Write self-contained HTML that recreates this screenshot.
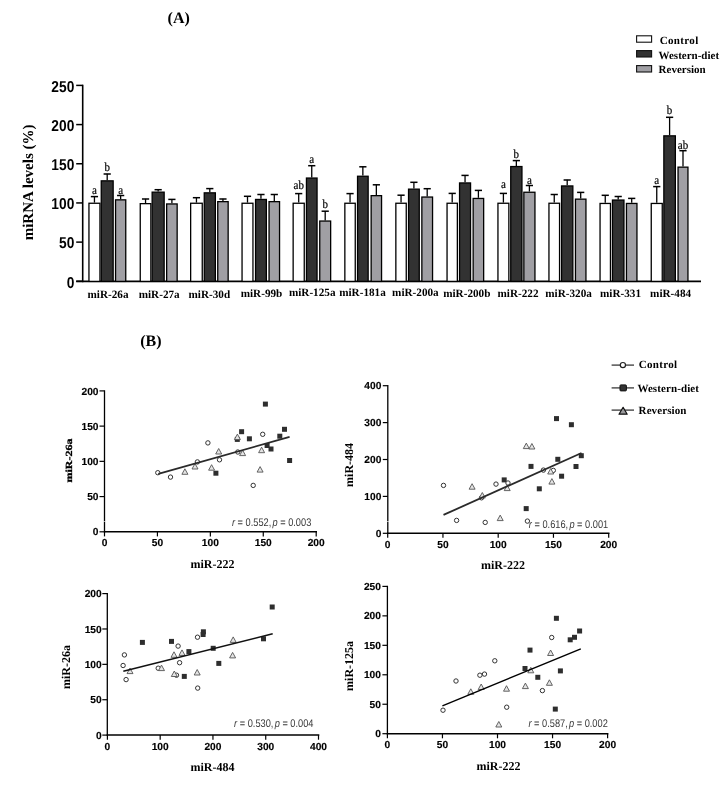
<!DOCTYPE html>
<html><head><meta charset="utf-8"><title>Figure</title>
<style>
html,body{margin:0;padding:0;background:#fff;}
body{width:722px;height:785px;overflow:hidden;font-family:"Liberation Sans",sans-serif;}
svg{display:block;will-change:transform;}
text{text-rendering:geometricPrecision;}
</style></head>
<body>
<svg width="722" height="785" viewBox="0 0 722 785">
<rect x="0" y="0" width="722" height="785" fill="#fff"/>
<text x="167.6" y="22.6" font-family="'Liberation Serif', serif" font-weight="bold" font-size="16">(A)</text>
<line x1="82.7" y1="84.7" x2="82.7" y2="282.2" stroke="#000" stroke-width="1.6"/>
<line x1="76.2" y1="281.4" x2="701" y2="281.4" stroke="#000" stroke-width="1.7"/>
<line x1="76.2" y1="281.3" x2="82.7" y2="281.3" stroke="#000" stroke-width="1.5"/>
<text transform="translate(74.3,287.6) scale(0.87,1)" text-anchor="end" font-family="'Liberation Sans', sans-serif" font-weight="bold" font-size="15.8">0</text>
<line x1="76.2" y1="242.12" x2="82.7" y2="242.12" stroke="#000" stroke-width="1.5"/>
<text transform="translate(74.3,248.42) scale(0.87,1)" text-anchor="end" font-family="'Liberation Sans', sans-serif" font-weight="bold" font-size="15.8">50</text>
<line x1="76.2" y1="202.94" x2="82.7" y2="202.94" stroke="#000" stroke-width="1.5"/>
<text transform="translate(74.3,209.24) scale(0.87,1)" text-anchor="end" font-family="'Liberation Sans', sans-serif" font-weight="bold" font-size="15.8">100</text>
<line x1="76.2" y1="163.76" x2="82.7" y2="163.76" stroke="#000" stroke-width="1.5"/>
<text transform="translate(74.3,170.06) scale(0.87,1)" text-anchor="end" font-family="'Liberation Sans', sans-serif" font-weight="bold" font-size="15.8">150</text>
<line x1="76.2" y1="124.58" x2="82.7" y2="124.58" stroke="#000" stroke-width="1.5"/>
<text transform="translate(74.3,130.88) scale(0.87,1)" text-anchor="end" font-family="'Liberation Sans', sans-serif" font-weight="bold" font-size="15.8">200</text>
<line x1="76.2" y1="85.4" x2="82.7" y2="85.4" stroke="#000" stroke-width="1.5"/>
<text transform="translate(74.3,91.7) scale(0.87,1)" text-anchor="end" font-family="'Liberation Sans', sans-serif" font-weight="bold" font-size="15.8">250</text>
<text transform="translate(33.3,182.4) rotate(-90)" text-anchor="middle" font-family="'Liberation Serif', serif" font-weight="bold" font-size="15">miRNA levels (%)</text>
<line x1="94.45" y1="196.4" x2="94.45" y2="202.6" stroke="#000" stroke-width="1.3"/>
<line x1="90.85" y1="196.6" x2="98.05" y2="196.6" stroke="#000" stroke-width="1.5"/>
<rect x="88.95" y="203.25" width="11" height="78.15" fill="#ffffff" stroke="#000" stroke-width="1.3"/>
<text transform="translate(94.45,194) scale(0.9,1)" text-anchor="middle" font-family="'Liberation Serif', serif" font-size="12.2" stroke="#000" stroke-width="0.2">a</text>
<line x1="107.2" y1="173.8" x2="107.2" y2="180.2" stroke="#000" stroke-width="1.3"/>
<line x1="103.6" y1="174" x2="110.8" y2="174" stroke="#000" stroke-width="1.5"/>
<rect x="101.25" y="180.85" width="11.9" height="100.55" fill="#323232" stroke="#000" stroke-width="1.3"/>
<text transform="translate(107.2,170.8) scale(0.9,1)" text-anchor="middle" font-family="'Liberation Serif', serif" font-size="12.2" stroke="#000" stroke-width="0.2">b</text>
<line x1="120.65" y1="195.3" x2="120.65" y2="199.2" stroke="#000" stroke-width="1.3"/>
<line x1="117.05" y1="195.5" x2="124.25" y2="195.5" stroke="#000" stroke-width="1.5"/>
<rect x="115.55" y="199.85" width="10.2" height="81.55" fill="#a09fa4" stroke="#000" stroke-width="1.3"/>
<text transform="translate(120.65,194) scale(0.9,1)" text-anchor="middle" font-family="'Liberation Serif', serif" font-size="12.2" stroke="#000" stroke-width="0.2">a</text>
<text x="108" y="297.9" text-anchor="middle" font-family="'Liberation Serif', serif" font-weight="bold" font-size="11.2">miR-26a</text>
<line x1="145.55" y1="198.8" x2="145.55" y2="203" stroke="#000" stroke-width="1.3"/>
<line x1="141.95" y1="199" x2="149.15" y2="199" stroke="#000" stroke-width="1.5"/>
<rect x="140.25" y="203.65" width="10.6" height="77.75" fill="#ffffff" stroke="#000" stroke-width="1.3"/>
<line x1="158.15" y1="189.5" x2="158.15" y2="191.5" stroke="#000" stroke-width="1.3"/>
<line x1="154.55" y1="189.7" x2="161.75" y2="189.7" stroke="#000" stroke-width="1.5"/>
<rect x="152.15" y="192.15" width="12" height="89.25" fill="#323232" stroke="#000" stroke-width="1.3"/>
<line x1="171.9" y1="199.2" x2="171.9" y2="203.3" stroke="#000" stroke-width="1.3"/>
<line x1="168.3" y1="199.4" x2="175.5" y2="199.4" stroke="#000" stroke-width="1.5"/>
<rect x="166.65" y="203.95" width="10.5" height="77.45" fill="#a09fa4" stroke="#000" stroke-width="1.3"/>
<text x="159.2" y="297.6" text-anchor="middle" font-family="'Liberation Serif', serif" font-weight="bold" font-size="11.2">miR-27a</text>
<line x1="196.45" y1="197.5" x2="196.45" y2="202.6" stroke="#000" stroke-width="1.3"/>
<line x1="192.85" y1="197.7" x2="200.05" y2="197.7" stroke="#000" stroke-width="1.5"/>
<rect x="190.65" y="203.25" width="11.6" height="78.15" fill="#ffffff" stroke="#000" stroke-width="1.3"/>
<line x1="209.8" y1="188.4" x2="209.8" y2="192.2" stroke="#000" stroke-width="1.3"/>
<line x1="206.2" y1="188.6" x2="213.4" y2="188.6" stroke="#000" stroke-width="1.5"/>
<rect x="204.25" y="192.85" width="11.1" height="88.55" fill="#323232" stroke="#000" stroke-width="1.3"/>
<line x1="222.95" y1="198.8" x2="222.95" y2="201" stroke="#000" stroke-width="1.3"/>
<line x1="219.35" y1="199" x2="226.55" y2="199" stroke="#000" stroke-width="1.5"/>
<rect x="217.75" y="201.65" width="10.4" height="79.75" fill="#a09fa4" stroke="#000" stroke-width="1.3"/>
<text x="209.3" y="297.8" text-anchor="middle" font-family="'Liberation Serif', serif" font-weight="bold" font-size="11.2">miR-30d</text>
<line x1="247.5" y1="196.1" x2="247.5" y2="202.6" stroke="#000" stroke-width="1.3"/>
<line x1="243.9" y1="196.3" x2="251.1" y2="196.3" stroke="#000" stroke-width="1.5"/>
<rect x="242.05" y="203.25" width="10.9" height="78.15" fill="#ffffff" stroke="#000" stroke-width="1.3"/>
<line x1="260.95" y1="194.3" x2="260.95" y2="198.8" stroke="#000" stroke-width="1.3"/>
<line x1="257.35" y1="194.5" x2="264.55" y2="194.5" stroke="#000" stroke-width="1.5"/>
<rect x="255.55" y="199.45" width="10.8" height="81.95" fill="#323232" stroke="#000" stroke-width="1.3"/>
<line x1="274.3" y1="194.3" x2="274.3" y2="201" stroke="#000" stroke-width="1.3"/>
<line x1="270.7" y1="194.5" x2="277.9" y2="194.5" stroke="#000" stroke-width="1.5"/>
<rect x="269.05" y="201.65" width="10.5" height="79.75" fill="#a09fa4" stroke="#000" stroke-width="1.3"/>
<text x="261.5" y="296.8" text-anchor="middle" font-family="'Liberation Serif', serif" font-weight="bold" font-size="11.2">miR-99b</text>
<line x1="298.7" y1="193.4" x2="298.7" y2="202.6" stroke="#000" stroke-width="1.3"/>
<line x1="295.1" y1="193.6" x2="302.3" y2="193.6" stroke="#000" stroke-width="1.5"/>
<rect x="293.15" y="203.25" width="11.1" height="78.15" fill="#ffffff" stroke="#000" stroke-width="1.3"/>
<text transform="translate(298.7,188.7) scale(0.9,1)" text-anchor="middle" font-family="'Liberation Serif', serif" font-size="12.2" stroke="#000" stroke-width="0.2">ab</text>
<line x1="311.75" y1="165.5" x2="311.75" y2="177.4" stroke="#000" stroke-width="1.3"/>
<line x1="308.15" y1="165.7" x2="315.35" y2="165.7" stroke="#000" stroke-width="1.5"/>
<rect x="306.45" y="178.05" width="10.6" height="103.35" fill="#323232" stroke="#000" stroke-width="1.3"/>
<text transform="translate(311.75,162.7) scale(0.9,1)" text-anchor="middle" font-family="'Liberation Serif', serif" font-size="12.2" stroke="#000" stroke-width="0.2">a</text>
<line x1="325.2" y1="211" x2="325.2" y2="220.4" stroke="#000" stroke-width="1.3"/>
<line x1="321.6" y1="211.2" x2="328.8" y2="211.2" stroke="#000" stroke-width="1.5"/>
<rect x="319.75" y="221.05" width="10.9" height="60.35" fill="#a09fa4" stroke="#000" stroke-width="1.3"/>
<text transform="translate(325.2,207.5) scale(0.9,1)" text-anchor="middle" font-family="'Liberation Serif', serif" font-size="12.2" stroke="#000" stroke-width="0.2">b</text>
<text x="312.2" y="296.4" text-anchor="middle" font-family="'Liberation Serif', serif" font-weight="bold" font-size="11.2">miR-125a</text>
<line x1="350.05" y1="193.4" x2="350.05" y2="202.6" stroke="#000" stroke-width="1.3"/>
<line x1="346.45" y1="193.6" x2="353.65" y2="193.6" stroke="#000" stroke-width="1.5"/>
<rect x="344.85" y="203.25" width="10.4" height="78.15" fill="#ffffff" stroke="#000" stroke-width="1.3"/>
<line x1="362.85" y1="166.6" x2="362.85" y2="175.6" stroke="#000" stroke-width="1.3"/>
<line x1="359.25" y1="166.8" x2="366.45" y2="166.8" stroke="#000" stroke-width="1.5"/>
<rect x="357.55" y="176.25" width="10.6" height="105.15" fill="#323232" stroke="#000" stroke-width="1.3"/>
<line x1="376.35" y1="184.6" x2="376.35" y2="195" stroke="#000" stroke-width="1.3"/>
<line x1="372.75" y1="184.8" x2="379.95" y2="184.8" stroke="#000" stroke-width="1.5"/>
<rect x="371.15" y="195.65" width="10.4" height="85.75" fill="#a09fa4" stroke="#000" stroke-width="1.3"/>
<text x="362.5" y="296.4" text-anchor="middle" font-family="'Liberation Serif', serif" font-weight="bold" font-size="11.2">miR-181a</text>
<line x1="401.05" y1="195" x2="401.05" y2="202.6" stroke="#000" stroke-width="1.3"/>
<line x1="397.45" y1="195.2" x2="404.65" y2="195.2" stroke="#000" stroke-width="1.5"/>
<rect x="395.85" y="203.25" width="10.4" height="78.15" fill="#ffffff" stroke="#000" stroke-width="1.3"/>
<line x1="413.9" y1="182.1" x2="413.9" y2="188.5" stroke="#000" stroke-width="1.3"/>
<line x1="410.3" y1="182.3" x2="417.5" y2="182.3" stroke="#000" stroke-width="1.5"/>
<rect x="408.55" y="189.15" width="10.7" height="92.25" fill="#323232" stroke="#000" stroke-width="1.3"/>
<line x1="427.2" y1="188.5" x2="427.2" y2="196.4" stroke="#000" stroke-width="1.3"/>
<line x1="423.6" y1="188.7" x2="430.8" y2="188.7" stroke="#000" stroke-width="1.5"/>
<rect x="421.85" y="197.05" width="10.7" height="84.35" fill="#a09fa4" stroke="#000" stroke-width="1.3"/>
<text x="415.4" y="296.3" text-anchor="middle" font-family="'Liberation Serif', serif" font-weight="bold" font-size="11.2">miR-200a</text>
<line x1="452.2" y1="193.2" x2="452.2" y2="202.6" stroke="#000" stroke-width="1.3"/>
<line x1="448.6" y1="193.4" x2="455.8" y2="193.4" stroke="#000" stroke-width="1.5"/>
<rect x="447.05" y="203.25" width="10.3" height="78.15" fill="#ffffff" stroke="#000" stroke-width="1.3"/>
<line x1="465.05" y1="175.2" x2="465.05" y2="182.3" stroke="#000" stroke-width="1.3"/>
<line x1="461.45" y1="175.4" x2="468.65" y2="175.4" stroke="#000" stroke-width="1.5"/>
<rect x="459.55" y="182.95" width="11" height="98.45" fill="#323232" stroke="#000" stroke-width="1.3"/>
<line x1="478.4" y1="190.2" x2="478.4" y2="197.8" stroke="#000" stroke-width="1.3"/>
<line x1="474.8" y1="190.4" x2="482" y2="190.4" stroke="#000" stroke-width="1.5"/>
<rect x="473.15" y="198.45" width="10.5" height="82.95" fill="#a09fa4" stroke="#000" stroke-width="1.3"/>
<text x="466.8" y="297.4" text-anchor="middle" font-family="'Liberation Serif', serif" font-weight="bold" font-size="11.2">miR-200b</text>
<line x1="503.4" y1="193.2" x2="503.4" y2="202.6" stroke="#000" stroke-width="1.3"/>
<line x1="499.8" y1="193.4" x2="507" y2="193.4" stroke="#000" stroke-width="1.5"/>
<rect x="497.95" y="203.25" width="10.9" height="78.15" fill="#ffffff" stroke="#000" stroke-width="1.3"/>
<text transform="translate(503.4,187.5) scale(0.9,1)" text-anchor="middle" font-family="'Liberation Serif', serif" font-size="12.2" stroke="#000" stroke-width="0.2">a</text>
<line x1="516.35" y1="160.4" x2="516.35" y2="165.9" stroke="#000" stroke-width="1.3"/>
<line x1="512.75" y1="160.6" x2="519.95" y2="160.6" stroke="#000" stroke-width="1.5"/>
<rect x="510.75" y="166.55" width="11.2" height="114.85" fill="#323232" stroke="#000" stroke-width="1.3"/>
<text transform="translate(516.35,157.6) scale(0.9,1)" text-anchor="middle" font-family="'Liberation Serif', serif" font-size="12.2" stroke="#000" stroke-width="0.2">b</text>
<line x1="529.4" y1="185.3" x2="529.4" y2="191.6" stroke="#000" stroke-width="1.3"/>
<line x1="525.8" y1="185.5" x2="533" y2="185.5" stroke="#000" stroke-width="1.5"/>
<rect x="523.85" y="192.25" width="11.1" height="89.15" fill="#a09fa4" stroke="#000" stroke-width="1.3"/>
<text transform="translate(529.4,183.6) scale(0.9,1)" text-anchor="middle" font-family="'Liberation Serif', serif" font-size="12.2" stroke="#000" stroke-width="0.2">a</text>
<text x="518" y="297.1" text-anchor="middle" font-family="'Liberation Serif', serif" font-weight="bold" font-size="11.2">miR-222</text>
<line x1="554.25" y1="194.3" x2="554.25" y2="202.6" stroke="#000" stroke-width="1.3"/>
<line x1="550.65" y1="194.5" x2="557.85" y2="194.5" stroke="#000" stroke-width="1.5"/>
<rect x="548.95" y="203.25" width="10.6" height="78.15" fill="#ffffff" stroke="#000" stroke-width="1.3"/>
<line x1="567.2" y1="179.8" x2="567.2" y2="185.3" stroke="#000" stroke-width="1.3"/>
<line x1="563.6" y1="180" x2="570.8" y2="180" stroke="#000" stroke-width="1.5"/>
<rect x="561.55" y="185.95" width="11.3" height="95.45" fill="#323232" stroke="#000" stroke-width="1.3"/>
<line x1="580.7" y1="192.2" x2="580.7" y2="198.5" stroke="#000" stroke-width="1.3"/>
<line x1="577.1" y1="192.4" x2="584.3" y2="192.4" stroke="#000" stroke-width="1.5"/>
<rect x="575.45" y="199.15" width="10.5" height="82.25" fill="#a09fa4" stroke="#000" stroke-width="1.3"/>
<text x="568.6" y="296.6" text-anchor="middle" font-family="'Liberation Serif', serif" font-weight="bold" font-size="11.2">miR-320a</text>
<line x1="605.25" y1="195.1" x2="605.25" y2="202.8" stroke="#000" stroke-width="1.3"/>
<line x1="601.65" y1="195.3" x2="608.85" y2="195.3" stroke="#000" stroke-width="1.5"/>
<rect x="600.05" y="203.45" width="10.4" height="77.95" fill="#ffffff" stroke="#000" stroke-width="1.3"/>
<line x1="618.2" y1="196.3" x2="618.2" y2="199.4" stroke="#000" stroke-width="1.3"/>
<line x1="614.6" y1="196.5" x2="621.8" y2="196.5" stroke="#000" stroke-width="1.5"/>
<rect x="612.45" y="200.05" width="11.5" height="81.35" fill="#323232" stroke="#000" stroke-width="1.3"/>
<line x1="631.7" y1="198.2" x2="631.7" y2="202.8" stroke="#000" stroke-width="1.3"/>
<line x1="628.1" y1="198.4" x2="635.3" y2="198.4" stroke="#000" stroke-width="1.5"/>
<rect x="626.45" y="203.45" width="10.5" height="77.95" fill="#a09fa4" stroke="#000" stroke-width="1.3"/>
<text x="620.5" y="297.3" text-anchor="middle" font-family="'Liberation Serif', serif" font-weight="bold" font-size="11.2">miR-331</text>
<line x1="656.75" y1="186.4" x2="656.75" y2="202.8" stroke="#000" stroke-width="1.3"/>
<line x1="653.15" y1="186.6" x2="660.35" y2="186.6" stroke="#000" stroke-width="1.5"/>
<rect x="651.25" y="203.45" width="11" height="77.95" fill="#ffffff" stroke="#000" stroke-width="1.3"/>
<text transform="translate(656.75,183.8) scale(0.9,1)" text-anchor="middle" font-family="'Liberation Serif', serif" font-size="12.2" stroke="#000" stroke-width="0.2">a</text>
<line x1="669.6" y1="117.1" x2="669.6" y2="135.2" stroke="#000" stroke-width="1.3"/>
<line x1="666" y1="117.3" x2="673.2" y2="117.3" stroke="#000" stroke-width="1.5"/>
<rect x="663.85" y="135.85" width="11.5" height="145.55" fill="#323232" stroke="#000" stroke-width="1.3"/>
<text transform="translate(669.6,113.8) scale(0.9,1)" text-anchor="middle" font-family="'Liberation Serif', serif" font-size="12.2" stroke="#000" stroke-width="0.2">b</text>
<line x1="683" y1="150.5" x2="683" y2="166.5" stroke="#000" stroke-width="1.3"/>
<line x1="679.4" y1="150.7" x2="686.6" y2="150.7" stroke="#000" stroke-width="1.5"/>
<rect x="678.05" y="167.15" width="9.9" height="114.25" fill="#a09fa4" stroke="#000" stroke-width="1.3"/>
<text transform="translate(683,148.6) scale(0.9,1)" text-anchor="middle" font-family="'Liberation Serif', serif" font-size="12.2" stroke="#000" stroke-width="0.2">ab</text>
<text x="670.6" y="297.3" text-anchor="middle" font-family="'Liberation Serif', serif" font-weight="bold" font-size="11.2">miR-484</text>
<rect x="636.6" y="35.8" width="15" height="6.4" fill="#ffffff" stroke="#111" stroke-width="1.1"/>
<text x="659.7" y="43.9" letter-spacing="0.35" font-family="'Liberation Serif', serif" font-weight="bold" font-size="11">Control</text>
<rect x="636.6" y="50.6" width="15" height="6.4" fill="#323232" stroke="#111" stroke-width="1.1"/>
<text x="658.6" y="58.6" letter-spacing="0" font-family="'Liberation Serif', serif" font-weight="bold" font-size="11">Western-diet</text>
<rect x="636.6" y="65.6" width="15" height="6.4" fill="#a09fa4" stroke="#111" stroke-width="1.1"/>
<text x="658.6" y="73.4" letter-spacing="0" font-family="'Liberation Serif', serif" font-weight="bold" font-size="11">Reversion</text>
<text x="140.2" y="345.6" font-family="'Liberation Serif', serif" font-weight="bold" font-size="16">(B)</text>
<line x1="611.6" y1="365.1" x2="634" y2="365.1" stroke="#3a3a3a" stroke-width="1.3"/>
<circle cx="622.9" cy="365.1" r="2.6" fill="#fff" stroke="#222" stroke-width="1.2"/>
<text x="638.8" y="368.4" letter-spacing="0.3" font-family="'Liberation Serif', serif" font-weight="bold" font-size="11">Control</text>
<line x1="611.6" y1="387.9" x2="634" y2="387.9" stroke="#3a3a3a" stroke-width="1.3"/>
<rect x="620" y="384.9" width="6.4" height="6" rx="0.8" fill="#333" stroke="#111" stroke-width="1"/>
<text x="637.4" y="391.5" letter-spacing="0.1" font-family="'Liberation Serif', serif" font-weight="bold" font-size="11">Western-diet</text>
<line x1="611.6" y1="410.1" x2="634" y2="410.1" stroke="#3a3a3a" stroke-width="1.3"/>
<path d="M623.1 407.3 L627.2 414.2 L619 414.2 Z" fill="#9a9a9c" stroke="#111" stroke-width="1.2" stroke-linejoin="round"/>
<text x="638.6" y="414" letter-spacing="0.1" font-family="'Liberation Serif', serif" font-weight="bold" font-size="11">Reversion</text>
<line x1="104.5" y1="390.3" x2="104.5" y2="532.5" stroke="#000" stroke-width="1.3"/>
<line x1="103.9" y1="531.8" x2="317" y2="531.8" stroke="#000" stroke-width="1.5"/>
<line x1="104.5" y1="531.8" x2="104.5" y2="536.4" stroke="#000" stroke-width="1.2"/>
<text x="104.5" y="546.4" text-anchor="middle" font-family="'Liberation Sans', sans-serif" font-weight="bold" font-size="10.2" stroke="#000" stroke-width="0.15">0</text>
<line x1="157.43" y1="531.8" x2="157.43" y2="536.4" stroke="#000" stroke-width="1.2"/>
<text x="157.43" y="546.4" text-anchor="middle" font-family="'Liberation Sans', sans-serif" font-weight="bold" font-size="10.2" stroke="#000" stroke-width="0.15">50</text>
<line x1="210.35" y1="531.8" x2="210.35" y2="536.4" stroke="#000" stroke-width="1.2"/>
<text x="210.35" y="546.4" text-anchor="middle" font-family="'Liberation Sans', sans-serif" font-weight="bold" font-size="10.2" stroke="#000" stroke-width="0.15">100</text>
<line x1="263.27" y1="531.8" x2="263.27" y2="536.4" stroke="#000" stroke-width="1.2"/>
<text x="263.27" y="546.4" text-anchor="middle" font-family="'Liberation Sans', sans-serif" font-weight="bold" font-size="10.2" stroke="#000" stroke-width="0.15">150</text>
<line x1="316.2" y1="531.8" x2="316.2" y2="536.4" stroke="#000" stroke-width="1.2"/>
<text x="316.2" y="546.4" text-anchor="middle" font-family="'Liberation Sans', sans-serif" font-weight="bold" font-size="10.2" stroke="#000" stroke-width="0.15">200</text>
<line x1="99.5" y1="531.8" x2="104.5" y2="531.8" stroke="#000" stroke-width="1.2"/>
<text x="98.5" y="535.4" text-anchor="end" font-family="'Liberation Sans', sans-serif" font-weight="bold" font-size="10.2" stroke="#000" stroke-width="0.15">0</text>
<line x1="99.5" y1="496.57" x2="104.5" y2="496.57" stroke="#000" stroke-width="1.2"/>
<text x="98.5" y="500.17" text-anchor="end" font-family="'Liberation Sans', sans-serif" font-weight="bold" font-size="10.2" stroke="#000" stroke-width="0.15">50</text>
<line x1="99.5" y1="461.35" x2="104.5" y2="461.35" stroke="#000" stroke-width="1.2"/>
<text x="98.5" y="464.95" text-anchor="end" font-family="'Liberation Sans', sans-serif" font-weight="bold" font-size="10.2" stroke="#000" stroke-width="0.15">100</text>
<line x1="99.5" y1="426.12" x2="104.5" y2="426.12" stroke="#000" stroke-width="1.2"/>
<text x="98.5" y="429.73" text-anchor="end" font-family="'Liberation Sans', sans-serif" font-weight="bold" font-size="10.2" stroke="#000" stroke-width="0.15">150</text>
<line x1="99.5" y1="390.9" x2="104.5" y2="390.9" stroke="#000" stroke-width="1.2"/>
<text x="98.5" y="394.5" text-anchor="end" font-family="'Liberation Sans', sans-serif" font-weight="bold" font-size="10.2" stroke="#000" stroke-width="0.15">200</text>
<text transform="translate(72,460.6) rotate(-90) scale(1,0.78)" text-anchor="middle" font-family="'Liberation Serif', serif" font-weight="bold" font-size="12" stroke="#000" stroke-width="0.4">miR-26a</text>
<text x="212.5" y="567.7" text-anchor="middle" font-family="'Liberation Serif', serif" font-weight="bold" font-size="12">miR-222</text>
<text transform="translate(311.3,526.1) scale(0.84,1)" text-anchor="end" font-family="'Liberation Sans', sans-serif" font-size="11" fill="#3a3a3a"><tspan font-style="italic">r</tspan> = 0.552,<tspan font-style="italic" dx="1.5">p</tspan> = 0.003</text>
<rect x="213.4" y="470.7" width="5" height="5" fill="#2e2e2e"/>
<rect x="262.9" y="401.6" width="5" height="5" fill="#2e2e2e"/>
<rect x="239.1" y="429.2" width="5" height="5" fill="#2e2e2e"/>
<rect x="234.8" y="436.9" width="5" height="5" fill="#2e2e2e"/>
<rect x="246.9" y="436.3" width="5" height="5" fill="#2e2e2e"/>
<rect x="282" y="426.8" width="5" height="5" fill="#2e2e2e"/>
<rect x="277.3" y="433.7" width="5" height="5" fill="#2e2e2e"/>
<rect x="264.6" y="443" width="5" height="5" fill="#2e2e2e"/>
<rect x="268.5" y="446.5" width="5" height="5" fill="#2e2e2e"/>
<rect x="287.1" y="458" width="5" height="5" fill="#2e2e2e"/>
<circle cx="157.8" cy="472.7" r="2.2" fill="#fff" stroke="#333" stroke-width="1"/>
<circle cx="170.5" cy="477.1" r="2.2" fill="#fff" stroke="#333" stroke-width="1"/>
<circle cx="197.4" cy="461.9" r="2.2" fill="#fff" stroke="#333" stroke-width="1"/>
<circle cx="207.9" cy="442.9" r="2.2" fill="#fff" stroke="#333" stroke-width="1"/>
<circle cx="219.5" cy="459.8" r="2.2" fill="#fff" stroke="#333" stroke-width="1"/>
<circle cx="237.8" cy="452" r="2.2" fill="#fff" stroke="#333" stroke-width="1"/>
<circle cx="253.2" cy="485.4" r="2.2" fill="#fff" stroke="#333" stroke-width="1"/>
<circle cx="262.7" cy="434.3" r="2.2" fill="#fff" stroke="#333" stroke-width="1"/>
<path d="M184.9 468.8 L187.9 474.3 L181.9 474.3 Z" fill="#e4e4e4" stroke="#555" stroke-width="0.9" stroke-linejoin="round"/>
<path d="M195 463.5 L198 469 L192 469 Z" fill="#e4e4e4" stroke="#555" stroke-width="0.9" stroke-linejoin="round"/>
<path d="M218.7 448.5 L221.7 454 L215.7 454 Z" fill="#e4e4e4" stroke="#555" stroke-width="0.9" stroke-linejoin="round"/>
<path d="M211.6 464.7 L214.6 470.2 L208.6 470.2 Z" fill="#e4e4e4" stroke="#555" stroke-width="0.9" stroke-linejoin="round"/>
<path d="M237.4 434.1 L240.4 439.6 L234.4 439.6 Z" fill="#e4e4e4" stroke="#555" stroke-width="0.9" stroke-linejoin="round"/>
<path d="M242.6 450.1 L245.6 455.6 L239.6 455.6 Z" fill="#e4e4e4" stroke="#555" stroke-width="0.9" stroke-linejoin="round"/>
<path d="M261.6 447.2 L264.6 452.7 L258.6 452.7 Z" fill="#e4e4e4" stroke="#555" stroke-width="0.9" stroke-linejoin="round"/>
<path d="M260.1 466.6 L263.1 472.1 L257.1 472.1 Z" fill="#e4e4e4" stroke="#555" stroke-width="0.9" stroke-linejoin="round"/>
<line x1="158.3" y1="473.8" x2="289.6" y2="436.9" stroke="#2a2a2a" stroke-width="1.8"/>
<line x1="387.8" y1="385.1" x2="387.8" y2="533.9" stroke="#000" stroke-width="1.3"/>
<line x1="387.2" y1="533.2" x2="609.5" y2="533.2" stroke="#000" stroke-width="1.5"/>
<line x1="387.7" y1="533.2" x2="387.7" y2="537.8" stroke="#000" stroke-width="1.2"/>
<text x="387.7" y="547.8" text-anchor="middle" font-family="'Liberation Sans', sans-serif" font-weight="bold" font-size="10.2" stroke="#000" stroke-width="0.15">0</text>
<line x1="442.95" y1="533.2" x2="442.95" y2="537.8" stroke="#000" stroke-width="1.2"/>
<text x="442.95" y="547.8" text-anchor="middle" font-family="'Liberation Sans', sans-serif" font-weight="bold" font-size="10.2" stroke="#000" stroke-width="0.15">50</text>
<line x1="498.2" y1="533.2" x2="498.2" y2="537.8" stroke="#000" stroke-width="1.2"/>
<text x="498.2" y="547.8" text-anchor="middle" font-family="'Liberation Sans', sans-serif" font-weight="bold" font-size="10.2" stroke="#000" stroke-width="0.15">100</text>
<line x1="553.45" y1="533.2" x2="553.45" y2="537.8" stroke="#000" stroke-width="1.2"/>
<text x="553.45" y="547.8" text-anchor="middle" font-family="'Liberation Sans', sans-serif" font-weight="bold" font-size="10.2" stroke="#000" stroke-width="0.15">150</text>
<line x1="608.7" y1="533.2" x2="608.7" y2="537.8" stroke="#000" stroke-width="1.2"/>
<text x="608.7" y="547.8" text-anchor="middle" font-family="'Liberation Sans', sans-serif" font-weight="bold" font-size="10.2" stroke="#000" stroke-width="0.15">200</text>
<line x1="382.8" y1="533.3" x2="387.8" y2="533.3" stroke="#000" stroke-width="1.2"/>
<text x="381.3" y="536.9" text-anchor="end" font-family="'Liberation Sans', sans-serif" font-weight="bold" font-size="10.2" stroke="#000" stroke-width="0.15">0</text>
<line x1="382.8" y1="496.4" x2="387.8" y2="496.4" stroke="#000" stroke-width="1.2"/>
<text x="381.3" y="500" text-anchor="end" font-family="'Liberation Sans', sans-serif" font-weight="bold" font-size="10.2" stroke="#000" stroke-width="0.15">100</text>
<line x1="382.8" y1="459.5" x2="387.8" y2="459.5" stroke="#000" stroke-width="1.2"/>
<text x="381.3" y="463.1" text-anchor="end" font-family="'Liberation Sans', sans-serif" font-weight="bold" font-size="10.2" stroke="#000" stroke-width="0.15">200</text>
<line x1="382.8" y1="422.6" x2="387.8" y2="422.6" stroke="#000" stroke-width="1.2"/>
<text x="381.3" y="426.2" text-anchor="end" font-family="'Liberation Sans', sans-serif" font-weight="bold" font-size="10.2" stroke="#000" stroke-width="0.15">300</text>
<line x1="382.8" y1="385.7" x2="387.8" y2="385.7" stroke="#000" stroke-width="1.2"/>
<text x="381.3" y="389.3" text-anchor="end" font-family="'Liberation Sans', sans-serif" font-weight="bold" font-size="10.2" stroke="#000" stroke-width="0.15">400</text>
<text transform="translate(352.6,464.9) rotate(-90) scale(1,1.0)" text-anchor="middle" font-family="'Liberation Serif', serif" font-weight="bold" font-size="12" stroke="#000" stroke-width="0">miR-484</text>
<text x="503" y="568.5" text-anchor="middle" font-family="'Liberation Serif', serif" font-weight="bold" font-size="12">miR-222</text>
<text transform="translate(608.2,527.8) scale(0.84,1)" text-anchor="end" font-family="'Liberation Sans', sans-serif" font-size="11" fill="#3a3a3a"><tspan font-style="italic">r</tspan> = 0.616,<tspan font-style="italic" dx="1.5">p</tspan> = 0.001</text>
<rect x="501.7" y="477.4" width="5" height="5" fill="#2e2e2e"/>
<rect x="523.7" y="506.1" width="5" height="5" fill="#2e2e2e"/>
<rect x="528.5" y="463.9" width="5" height="5" fill="#2e2e2e"/>
<rect x="536.8" y="486.3" width="5" height="5" fill="#2e2e2e"/>
<rect x="554" y="416.1" width="5" height="5" fill="#2e2e2e"/>
<rect x="555.3" y="456.8" width="5" height="5" fill="#2e2e2e"/>
<rect x="559.1" y="473.7" width="5" height="5" fill="#2e2e2e"/>
<rect x="568.9" y="422.2" width="5" height="5" fill="#2e2e2e"/>
<rect x="573.5" y="464" width="5" height="5" fill="#2e2e2e"/>
<rect x="578.8" y="453.2" width="5" height="5" fill="#2e2e2e"/>
<circle cx="443.5" cy="485.4" r="2.2" fill="#fff" stroke="#333" stroke-width="1"/>
<circle cx="456.6" cy="520.4" r="2.2" fill="#fff" stroke="#333" stroke-width="1"/>
<circle cx="485.2" cy="522.4" r="2.2" fill="#fff" stroke="#333" stroke-width="1"/>
<circle cx="496" cy="484.1" r="2.2" fill="#fff" stroke="#333" stroke-width="1"/>
<circle cx="508" cy="483" r="2.2" fill="#fff" stroke="#333" stroke-width="1"/>
<circle cx="527.4" cy="521.1" r="2.2" fill="#fff" stroke="#333" stroke-width="1"/>
<circle cx="543.4" cy="470.1" r="2.2" fill="#fff" stroke="#333" stroke-width="1"/>
<circle cx="553.3" cy="470.4" r="2.2" fill="#fff" stroke="#333" stroke-width="1"/>
<circle cx="481.5" cy="497.8" r="2.2" fill="#fff" stroke="#333" stroke-width="1"/>
<path d="M472.1 483.7 L475.1 489.2 L469.1 489.2 Z" fill="#e4e4e4" stroke="#555" stroke-width="0.9" stroke-linejoin="round"/>
<path d="M482.3 492.5 L485.3 498 L479.3 498 Z" fill="#e4e4e4" stroke="#555" stroke-width="0.9" stroke-linejoin="round"/>
<path d="M500.2 515.1 L503.2 520.6 L497.2 520.6 Z" fill="#e4e4e4" stroke="#555" stroke-width="0.9" stroke-linejoin="round"/>
<path d="M507.2 485.1 L510.2 490.6 L504.2 490.6 Z" fill="#e4e4e4" stroke="#555" stroke-width="0.9" stroke-linejoin="round"/>
<path d="M526.3 443.1 L529.3 448.6 L523.3 448.6 Z" fill="#e4e4e4" stroke="#555" stroke-width="0.9" stroke-linejoin="round"/>
<path d="M531.9 443.5 L534.9 449 L528.9 449 Z" fill="#e4e4e4" stroke="#555" stroke-width="0.9" stroke-linejoin="round"/>
<path d="M550.7 468.5 L553.7 474 L547.7 474 Z" fill="#e4e4e4" stroke="#555" stroke-width="0.9" stroke-linejoin="round"/>
<path d="M551.9 478.6 L554.9 484.1 L548.9 484.1 Z" fill="#e4e4e4" stroke="#555" stroke-width="0.9" stroke-linejoin="round"/>
<line x1="443.5" y1="514.9" x2="581.5" y2="453" stroke="#2a2a2a" stroke-width="1.8"/>
<line x1="107.3" y1="593" x2="107.3" y2="735.8" stroke="#000" stroke-width="1.3"/>
<line x1="106.7" y1="735.1" x2="319.3" y2="735.1" stroke="#000" stroke-width="1.5"/>
<line x1="107.4" y1="735.1" x2="107.4" y2="739.7" stroke="#000" stroke-width="1.2"/>
<text x="107.4" y="749.7" text-anchor="middle" font-family="'Liberation Sans', sans-serif" font-weight="bold" font-size="10.2" stroke="#000" stroke-width="0.15">0</text>
<line x1="160.18" y1="735.1" x2="160.18" y2="739.7" stroke="#000" stroke-width="1.2"/>
<text x="160.18" y="749.7" text-anchor="middle" font-family="'Liberation Sans', sans-serif" font-weight="bold" font-size="10.2" stroke="#000" stroke-width="0.15">100</text>
<line x1="212.95" y1="735.1" x2="212.95" y2="739.7" stroke="#000" stroke-width="1.2"/>
<text x="212.95" y="749.7" text-anchor="middle" font-family="'Liberation Sans', sans-serif" font-weight="bold" font-size="10.2" stroke="#000" stroke-width="0.15">200</text>
<line x1="265.73" y1="735.1" x2="265.73" y2="739.7" stroke="#000" stroke-width="1.2"/>
<text x="265.73" y="749.7" text-anchor="middle" font-family="'Liberation Sans', sans-serif" font-weight="bold" font-size="10.2" stroke="#000" stroke-width="0.15">300</text>
<line x1="318.5" y1="735.1" x2="318.5" y2="739.7" stroke="#000" stroke-width="1.2"/>
<text x="318.5" y="749.7" text-anchor="middle" font-family="'Liberation Sans', sans-serif" font-weight="bold" font-size="10.2" stroke="#000" stroke-width="0.15">400</text>
<line x1="102.3" y1="735.1" x2="107.3" y2="735.1" stroke="#000" stroke-width="1.2"/>
<text x="101.7" y="738.7" text-anchor="end" font-family="'Liberation Sans', sans-serif" font-weight="bold" font-size="10.2" stroke="#000" stroke-width="0.15">0</text>
<line x1="102.3" y1="699.73" x2="107.3" y2="699.73" stroke="#000" stroke-width="1.2"/>
<text x="101.7" y="703.33" text-anchor="end" font-family="'Liberation Sans', sans-serif" font-weight="bold" font-size="10.2" stroke="#000" stroke-width="0.15">50</text>
<line x1="102.3" y1="664.35" x2="107.3" y2="664.35" stroke="#000" stroke-width="1.2"/>
<text x="101.7" y="667.95" text-anchor="end" font-family="'Liberation Sans', sans-serif" font-weight="bold" font-size="10.2" stroke="#000" stroke-width="0.15">100</text>
<line x1="102.3" y1="628.98" x2="107.3" y2="628.98" stroke="#000" stroke-width="1.2"/>
<text x="101.7" y="632.58" text-anchor="end" font-family="'Liberation Sans', sans-serif" font-weight="bold" font-size="10.2" stroke="#000" stroke-width="0.15">150</text>
<line x1="102.3" y1="593.6" x2="107.3" y2="593.6" stroke="#000" stroke-width="1.2"/>
<text x="101.7" y="597.2" text-anchor="end" font-family="'Liberation Sans', sans-serif" font-weight="bold" font-size="10.2" stroke="#000" stroke-width="0.15">200</text>
<text transform="translate(70.4,667) rotate(-90) scale(1,1.0)" text-anchor="middle" font-family="'Liberation Serif', serif" font-weight="bold" font-size="12" stroke="#000" stroke-width="0">miR-26a</text>
<text x="212.5" y="771" text-anchor="middle" font-family="'Liberation Serif', serif" font-weight="bold" font-size="12">miR-484</text>
<text transform="translate(313.5,727.3) scale(0.84,1)" text-anchor="end" font-family="'Liberation Sans', sans-serif" font-size="11" fill="#3a3a3a"><tspan font-style="italic">r</tspan> = 0.530,<tspan font-style="italic" dx="1.5">p</tspan> = 0.004</text>
<rect x="139.9" y="639.9" width="5" height="5" fill="#2e2e2e"/>
<rect x="169" y="638.9" width="5" height="5" fill="#2e2e2e"/>
<rect x="186.4" y="649.1" width="5" height="5" fill="#2e2e2e"/>
<rect x="181.8" y="673.9" width="5" height="5" fill="#2e2e2e"/>
<rect x="200.9" y="629.3" width="5" height="5" fill="#2e2e2e"/>
<rect x="200.6" y="632" width="5" height="5" fill="#2e2e2e"/>
<rect x="210.7" y="645.8" width="5" height="5" fill="#2e2e2e"/>
<rect x="216.3" y="660.9" width="5" height="5" fill="#2e2e2e"/>
<rect x="261" y="636.3" width="5" height="5" fill="#2e2e2e"/>
<rect x="269.7" y="604.5" width="5" height="5" fill="#2e2e2e"/>
<circle cx="124.4" cy="654.9" r="2.2" fill="#fff" stroke="#333" stroke-width="1"/>
<circle cx="123.1" cy="665.5" r="2.2" fill="#fff" stroke="#333" stroke-width="1"/>
<circle cx="126.1" cy="679.6" r="2.2" fill="#fff" stroke="#333" stroke-width="1"/>
<circle cx="178.1" cy="646.1" r="2.2" fill="#fff" stroke="#333" stroke-width="1"/>
<circle cx="179.6" cy="662.7" r="2.2" fill="#fff" stroke="#333" stroke-width="1"/>
<circle cx="158.2" cy="668.2" r="2.2" fill="#fff" stroke="#333" stroke-width="1"/>
<circle cx="176.5" cy="675.2" r="2.2" fill="#fff" stroke="#333" stroke-width="1"/>
<circle cx="197.5" cy="637.2" r="2.2" fill="#fff" stroke="#333" stroke-width="1"/>
<circle cx="197.7" cy="688.1" r="2.2" fill="#fff" stroke="#333" stroke-width="1"/>
<path d="M130 668.1 L133 673.6 L127 673.6 Z" fill="#e4e4e4" stroke="#555" stroke-width="0.9" stroke-linejoin="round"/>
<path d="M174 651.8 L177 657.3 L171 657.3 Z" fill="#e4e4e4" stroke="#555" stroke-width="0.9" stroke-linejoin="round"/>
<path d="M182 649.9 L185 655.4 L179 655.4 Z" fill="#e4e4e4" stroke="#555" stroke-width="0.9" stroke-linejoin="round"/>
<path d="M161.5 665.1 L164.5 670.6 L158.5 670.6 Z" fill="#e4e4e4" stroke="#555" stroke-width="0.9" stroke-linejoin="round"/>
<path d="M174.3 671 L177.3 676.5 L171.3 676.5 Z" fill="#e4e4e4" stroke="#555" stroke-width="0.9" stroke-linejoin="round"/>
<path d="M197.2 669.5 L200.2 675 L194.2 675 Z" fill="#e4e4e4" stroke="#555" stroke-width="0.9" stroke-linejoin="round"/>
<path d="M233.2 636.9 L236.2 642.4 L230.2 642.4 Z" fill="#e4e4e4" stroke="#555" stroke-width="0.9" stroke-linejoin="round"/>
<path d="M232.6 652.4 L235.6 657.9 L229.6 657.9 Z" fill="#e4e4e4" stroke="#555" stroke-width="0.9" stroke-linejoin="round"/>
<line x1="123.3" y1="671.2" x2="272.7" y2="633.8" stroke="#111" stroke-width="1.5"/>
<line x1="387.4" y1="585.8" x2="387.4" y2="734.4" stroke="#000" stroke-width="1.3"/>
<line x1="386.8" y1="733.7" x2="608.4" y2="733.7" stroke="#000" stroke-width="1.5"/>
<line x1="387.4" y1="733.7" x2="387.4" y2="738.3" stroke="#000" stroke-width="1.2"/>
<text x="387.4" y="748.3" text-anchor="middle" font-family="'Liberation Sans', sans-serif" font-weight="bold" font-size="10.2" stroke="#000" stroke-width="0.15">0</text>
<line x1="442.45" y1="733.7" x2="442.45" y2="738.3" stroke="#000" stroke-width="1.2"/>
<text x="442.45" y="748.3" text-anchor="middle" font-family="'Liberation Sans', sans-serif" font-weight="bold" font-size="10.2" stroke="#000" stroke-width="0.15">50</text>
<line x1="497.5" y1="733.7" x2="497.5" y2="738.3" stroke="#000" stroke-width="1.2"/>
<text x="497.5" y="748.3" text-anchor="middle" font-family="'Liberation Sans', sans-serif" font-weight="bold" font-size="10.2" stroke="#000" stroke-width="0.15">100</text>
<line x1="552.55" y1="733.7" x2="552.55" y2="738.3" stroke="#000" stroke-width="1.2"/>
<text x="552.55" y="748.3" text-anchor="middle" font-family="'Liberation Sans', sans-serif" font-weight="bold" font-size="10.2" stroke="#000" stroke-width="0.15">150</text>
<line x1="607.6" y1="733.7" x2="607.6" y2="738.3" stroke="#000" stroke-width="1.2"/>
<text x="607.6" y="748.3" text-anchor="middle" font-family="'Liberation Sans', sans-serif" font-weight="bold" font-size="10.2" stroke="#000" stroke-width="0.15">200</text>
<line x1="382.4" y1="733.7" x2="387.4" y2="733.7" stroke="#000" stroke-width="1.2"/>
<text x="380.9" y="737.3" text-anchor="end" font-family="'Liberation Sans', sans-serif" font-weight="bold" font-size="10.2" stroke="#000" stroke-width="0.15">0</text>
<line x1="382.4" y1="704.24" x2="387.4" y2="704.24" stroke="#000" stroke-width="1.2"/>
<text x="380.9" y="707.84" text-anchor="end" font-family="'Liberation Sans', sans-serif" font-weight="bold" font-size="10.2" stroke="#000" stroke-width="0.15">50</text>
<line x1="382.4" y1="674.78" x2="387.4" y2="674.78" stroke="#000" stroke-width="1.2"/>
<text x="380.9" y="678.38" text-anchor="end" font-family="'Liberation Sans', sans-serif" font-weight="bold" font-size="10.2" stroke="#000" stroke-width="0.15">100</text>
<line x1="382.4" y1="645.32" x2="387.4" y2="645.32" stroke="#000" stroke-width="1.2"/>
<text x="380.9" y="648.92" text-anchor="end" font-family="'Liberation Sans', sans-serif" font-weight="bold" font-size="10.2" stroke="#000" stroke-width="0.15">150</text>
<line x1="382.4" y1="615.86" x2="387.4" y2="615.86" stroke="#000" stroke-width="1.2"/>
<text x="380.9" y="619.46" text-anchor="end" font-family="'Liberation Sans', sans-serif" font-weight="bold" font-size="10.2" stroke="#000" stroke-width="0.15">200</text>
<line x1="382.4" y1="586.4" x2="387.4" y2="586.4" stroke="#000" stroke-width="1.2"/>
<text x="380.9" y="590" text-anchor="end" font-family="'Liberation Sans', sans-serif" font-weight="bold" font-size="10.2" stroke="#000" stroke-width="0.15">250</text>
<text transform="translate(352.9,665.9) rotate(-90) scale(1,1.0)" text-anchor="middle" font-family="'Liberation Serif', serif" font-weight="bold" font-size="12" stroke="#000" stroke-width="0">miR-125a</text>
<text x="498.4" y="770.3" text-anchor="middle" font-family="'Liberation Serif', serif" font-weight="bold" font-size="12">miR-222</text>
<text transform="translate(607.8,727.2) scale(0.84,1)" text-anchor="end" font-family="'Liberation Sans', sans-serif" font-size="11" fill="#3a3a3a"><tspan font-style="italic">r</tspan> = 0.587,<tspan font-style="italic" dx="1.5">p</tspan> = 0.002</text>
<rect x="522.5" y="666" width="5" height="5" fill="#2e2e2e"/>
<rect x="527.5" y="647.6" width="5" height="5" fill="#2e2e2e"/>
<rect x="535.3" y="674.8" width="5" height="5" fill="#2e2e2e"/>
<rect x="553.9" y="615.8" width="5" height="5" fill="#2e2e2e"/>
<rect x="552.8" y="706.6" width="5" height="5" fill="#2e2e2e"/>
<rect x="557.9" y="668.4" width="5" height="5" fill="#2e2e2e"/>
<rect x="567.7" y="637.3" width="5" height="5" fill="#2e2e2e"/>
<rect x="572" y="634.8" width="5" height="5" fill="#2e2e2e"/>
<rect x="577.1" y="628.5" width="5" height="5" fill="#2e2e2e"/>
<circle cx="443" cy="710.2" r="2.2" fill="#fff" stroke="#333" stroke-width="1"/>
<circle cx="456" cy="681" r="2.2" fill="#fff" stroke="#333" stroke-width="1"/>
<circle cx="479.9" cy="675.2" r="2.2" fill="#fff" stroke="#333" stroke-width="1"/>
<circle cx="484.5" cy="674.1" r="2.2" fill="#fff" stroke="#333" stroke-width="1"/>
<circle cx="494.8" cy="660.8" r="2.2" fill="#fff" stroke="#333" stroke-width="1"/>
<circle cx="506.7" cy="707.2" r="2.2" fill="#fff" stroke="#333" stroke-width="1"/>
<circle cx="542.4" cy="690.6" r="2.2" fill="#fff" stroke="#333" stroke-width="1"/>
<circle cx="551.7" cy="637.5" r="2.2" fill="#fff" stroke="#333" stroke-width="1"/>
<path d="M470.8 688.8 L473.8 694.3 L467.8 694.3 Z" fill="#e4e4e4" stroke="#555" stroke-width="0.9" stroke-linejoin="round"/>
<path d="M481.2 684 L484.2 689.5 L478.2 689.5 Z" fill="#e4e4e4" stroke="#555" stroke-width="0.9" stroke-linejoin="round"/>
<path d="M506.5 685.7 L509.5 691.2 L503.5 691.2 Z" fill="#e4e4e4" stroke="#555" stroke-width="0.9" stroke-linejoin="round"/>
<path d="M498.8 721.5 L501.8 727 L495.8 727 Z" fill="#e4e4e4" stroke="#555" stroke-width="0.9" stroke-linejoin="round"/>
<path d="M525.4 683.1 L528.4 688.6 L522.4 688.6 Z" fill="#e4e4e4" stroke="#555" stroke-width="0.9" stroke-linejoin="round"/>
<path d="M530.8 667.3 L533.8 672.8 L527.8 672.8 Z" fill="#e4e4e4" stroke="#555" stroke-width="0.9" stroke-linejoin="round"/>
<path d="M550.6 650 L553.6 655.5 L547.6 655.5 Z" fill="#e4e4e4" stroke="#555" stroke-width="0.9" stroke-linejoin="round"/>
<path d="M549.4 679.8 L552.4 685.3 L546.4 685.3 Z" fill="#e4e4e4" stroke="#555" stroke-width="0.9" stroke-linejoin="round"/>
<line x1="442.4" y1="705.9" x2="580.8" y2="648.8" stroke="#000" stroke-width="1.4"/>
<rect x="103.4" y="521.0" width="2.2" height="0.8" fill="#fff" opacity="0.8"/>
<rect x="386.7" y="521.0" width="2.2" height="0.8" fill="#fff" opacity="0.8"/>
</svg>
</body></html>
